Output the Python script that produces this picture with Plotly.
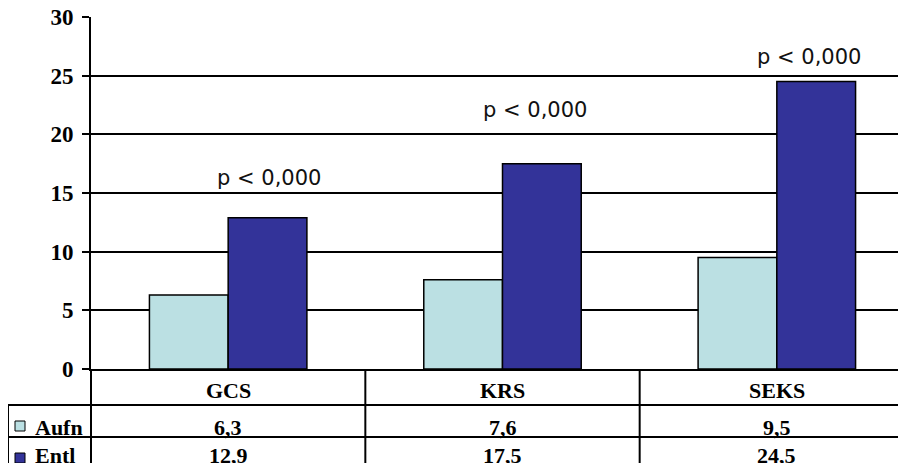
import plotly.graph_objects as go

categories = ["GCS", "KRS", "SEKS"]
aufn = [6.3, 7.6, 9.5]
entl = [12.9, 17.5, 24.5]
series_names = ["Aufn", "Entl"]
p_labels = ["p < 0,000", "p < 0,000", "p < 0,000"]
y_ticks = [0, 5, 10, 15, 20, 25, 30]

C_AUFN = "#BBE0E3"
C_ENTL = "#333399"
SERIF = "Liberation Serif, Times New Roman, serif"

OFF = 8  # page body margin
W, H = 906, 463
ML, MT = 91 - OFF, 17 - OFF
MB = H - (369 - OFF)
XR = [-0.5, 2.5]

fig = go.Figure()
fig.add_bar(x=categories, y=aufn, name=series_names[0], marker=dict(color=C_AUFN, line=dict(color="black", width=1.5)))
fig.add_bar(x=categories, y=entl, name=series_names[1], marker=dict(color=C_ENTL, line=dict(color="black", width=1.5)))

def fmt(v):
    return f"{v:.1f}".replace(".", ",")

pw = W - ML
ph = H - MT - MB
def px2paper_x(px):
    return (px - OFF - ML) / pw
def px2paper_y(py):
    return (H - MB - (py - OFF)) / ph

ann = []
p_y = [16.3, 22.1, 26.6]
p_dx = [0.15, 0.12, 0.117]
for i, t in enumerate(p_labels):
    ann.append(dict(x=i + p_dx[i], y=p_y[i], xref="x", yref="y", text=t, showarrow=False,
                    font=dict(family="DejaVu Sans", size=21, color="#111"), yanchor="middle"))

row_y = [px2paper_y(390), px2paper_y(427), px2paper_y(455)]
tfont = dict(family=SERIF, size=22, color="black", weight="bold")
for i, c in enumerate(categories):
    ann.append(dict(x=i, y=row_y[0], xref="x", yref="paper", text=f"<b>{c}</b>", showarrow=False, font=tfont, yanchor="middle"))
    ann.append(dict(x=i, y=row_y[1], xref="x", yref="paper", text=f"<b>{fmt(aufn[i])}</b>", showarrow=False, font=tfont, yanchor="middle"))
    ann.append(dict(x=i, y=row_y[2], xref="x", yref="paper", text=f"<b>{fmt(entl[i])}</b>", showarrow=False, font=tfont, yanchor="middle"))

for j, nm in enumerate(series_names):
    ann.append(dict(x=px2paper_x(33), y=row_y[1 + j], xref="paper", yref="paper", text=f"<b>{nm}</b>", showarrow=False,
                    font=tfont, xanchor="left", yanchor="middle"))

shapes = []
for j, col in enumerate([C_AUFN, C_ENTL]):
    cy = [426, 458][j]
    shapes.append(dict(type="rect", xref="paper", yref="paper", x0=px2paper_x(15), x1=px2paper_x(25),
                       y0=px2paper_y(cy - 5), y1=px2paper_y(cy + 5), fillcolor=col, line=dict(color="black", width=1)))

ln = dict(color="black", width=2)
left = px2paper_x(8)
for py in [405, 437]:
    shapes.append(dict(type="line", xref="paper", yref="paper", x0=left, x1=1, y0=px2paper_y(py), y1=px2paper_y(py), line=ln))
bottom = px2paper_y(475)
shapes.append(dict(type="line", xref="paper", yref="paper", x0=left, x1=left, y0=px2paper_y(405), y1=bottom, line=ln))
span = XR[1] - XR[0]
for b in [-0.5, 0.5, 1.5]:
    xp = (b - XR[0]) / span
    shapes.append(dict(type="line", xref="paper", yref="paper", x0=xp, x1=xp, y0=0, y1=bottom, line=ln))

fig.update_layout(
    width=W, height=H,
    margin=dict(l=ML, r=0, t=MT, b=MB, autoexpand=False),
    paper_bgcolor="white", plot_bgcolor="white",
    barmode="group", bargap=0.426, bargroupgap=0,
    showlegend=False,
    annotations=ann, shapes=shapes,
    xaxis=dict(range=XR, showticklabels=False, ticks="", showgrid=False, showline=True, linecolor="black",
               linewidth=2, zeroline=False, automargin=False),
    yaxis=dict(range=[0, 30], tickvals=y_ticks, showgrid=True, gridcolor="black", gridwidth=1.5,
               showline=True, linecolor="black", linewidth=2, ticks="outside", ticklen=7, tickwidth=1.5, tickcolor="black",
               zeroline=False, ticklabeloverflow="allow", automargin=False,
               tickfont=dict(family=SERIF, size=23, color="black", weight="bold"), ticklabelstandoff=4),
)

fig.write_html("out.html")
